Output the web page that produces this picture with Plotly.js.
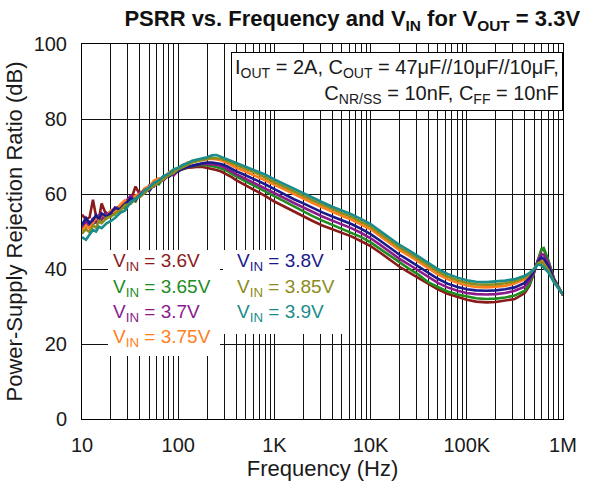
<!DOCTYPE html>
<html>
<head>
<meta charset="utf-8">
<script src="https://cdn.plot.ly/plotly-3.0.1.min.js"></script>
<style>html,body{margin:0;padding:0;background:#fff;}#chart{width:593px;height:484px;}</style>
</head>
<body>
<div id="chart"></div>
<script>
// Frequency points (Hz)
const freq = [10, 11, 12, 13, 14, 15, 16, 18, 20, 22, 25, 28, 32, 36, 40, 45, 50, 56, 63, 70, 80, 90, 100, 112, 125, 140, 160, 180, 200, 225, 250,
  280, 320, 360, 400, 500, 630, 800, 1000, 1250, 1600, 2000, 2500, 3150, 4000, 5000, 6300, 8000, 10000, 12500, 16000, 20000, 25000, 31500, 40000, 50000, 63000, 80000,
  100000, 125000, 160000, 200000, 250000, 315000, 400000, 450000, 500000, 550000, 600000, 630000, 700000, 800000, 900000, 1000000];

// PSRR (dB) per VIN
const vin360 = [54.5, 53.2, 53.8, 58.5, 54.0, 53.5, 57.5, 54.2, 55.5, 56.0, 56.8, 57.5, 58.2, 62.0, 59.8, 61.2, 61.6, 63.2, 63.5, 64.6, 65.2, 65.5, 66.4, 66.6, 67.0, 67.1, 67.3, 67.2, 67.0, 66.8, 66.4,
  66.0, 65.3, 64.5, 63.7, 62.4, 61.0, 59.5, 58.0, 56.7, 55.2, 54.0, 52.8, 51.6, 50.6, 49.7, 48.7, 47.4, 46.1, 44.4, 42.4, 40.6, 39.1, 37.6, 36.0, 34.6, 33.4, 32.5, 31.8, 31.3, 31.1, 31.2, 31.5, 32.0, 33.6, 35.6, 39.2, 42.6, 45.3, 45.4, 42.3, 37.6, 35.0, 33.0];
const vin365 = [52.0, 51.2, 52.5, 51.8, 53.4, 52.6, 54.0, 53.5, 55.2, 54.6, 56.8, 56.2, 58.6, 58.0, 60.2, 60.8, 61.5, 62.8, 62.6, 64.3, 64.8, 65.8, 66.2, 66.8, 67.2, 67.4, 67.6, 67.8, 67.7, 67.5, 67.2,
  66.8, 66.2, 65.4, 64.7, 63.4, 62.1, 60.7, 59.3, 58.0, 56.5, 55.3, 54.1, 52.9, 51.8, 50.8, 49.8, 48.5, 47.1, 45.4, 43.4, 41.6, 40.1, 38.5, 36.4, 35.2, 34.0, 33.2, 32.6, 32.2, 32.0, 32.1, 32.4, 32.9, 34.2, 36.0, 39.0, 42.4, 45.3, 45.6, 42.5, 37.6, 35.0, 33.0];
const vin370 = [50.6, 52.8, 51.5, 53.6, 52.2, 54.5, 53.2, 55.0, 54.2, 56.4, 55.8, 57.8, 59.5, 58.4, 60.6, 60.2, 62.3, 62.0, 63.8, 63.6, 65.2, 65.0, 66.3, 66.9, 67.4, 67.5, 67.9, 68.1, 68.0, 67.9, 67.8,
  67.5, 66.8, 66.0, 65.3, 64.1, 62.9, 61.6, 60.3, 59.0, 57.6, 56.4, 55.2, 54.0, 52.9, 51.9, 50.9, 49.6, 48.2, 46.5, 44.5, 42.7, 41.2, 39.6, 37.9, 36.3, 35.1, 34.2, 33.6, 33.3, 33.2, 33.3, 33.6, 34.2, 35.3, 36.9, 39.2, 42.3, 44.0, 43.8, 41.8, 37.4, 35.0, 33.1];
const vin375 = [50.2, 51.6, 50.8, 52.4, 53.8, 52.8, 54.6, 53.9, 55.6, 55.0, 57.2, 58.3, 57.6, 59.6, 60.0, 61.6, 62.0, 63.6, 64.2, 64.0, 65.8, 66.4, 66.8, 67.6, 68.4, 68.6, 69.2, 69.0, 69.3, 69.4, 69.2,
  69.0, 68.3, 67.6, 67.0, 66.0, 64.9, 63.7, 62.5, 61.3, 59.9, 58.8, 57.6, 56.4, 55.2, 54.2, 53.2, 51.9, 50.6, 48.8, 46.8, 45.0, 43.6, 42.0, 40.2, 38.6, 37.3, 36.3, 35.6, 35.2, 35.1, 35.2, 35.5, 36.1, 37.2, 38.4, 39.9, 41.8, 42.2, 41.8, 40.2, 37.0, 34.9, 33.2];
const vin380 = [51.8, 53.6, 52.2, 53.0, 54.4, 53.2, 54.8, 54.0, 55.0, 56.2, 56.0, 57.4, 58.8, 58.6, 59.8, 61.0, 60.8, 62.6, 63.0, 64.4, 64.6, 65.6, 66.0, 66.8, 67.2, 67.6, 67.9, 68.2, 68.4, 68.4, 68.3,
  68.0, 67.4, 66.7, 66.1, 65.0, 63.9, 62.6, 61.3, 60.0, 58.6, 57.5, 56.3, 55.1, 54.0, 53.0, 52.0, 50.7, 49.3, 47.6, 45.6, 43.8, 42.3, 40.7, 39.0, 37.4, 36.1, 35.2, 34.6, 34.3, 34.2, 34.3, 34.6, 35.1, 36.3, 37.7, 39.6, 42.1, 43.1, 42.7, 41.0, 37.2, 35.0, 33.1];
const vin385 = [49.4, 50.6, 49.8, 51.6, 51.0, 52.8, 52.2, 53.6, 54.0, 54.8, 55.6, 57.0, 57.4, 58.8, 59.2, 60.4, 61.4, 62.2, 63.2, 64.0, 65.0, 65.6, 66.6, 67.2, 67.8, 68.4, 68.8, 69.2, 69.4, 69.6, 69.6,
  69.4, 68.8, 68.2, 67.7, 66.7, 65.7, 64.5, 63.2, 62.0, 60.6, 59.5, 58.3, 57.1, 55.9, 54.9, 53.9, 52.6, 51.3, 49.5, 47.5, 45.7, 44.3, 42.7, 40.9, 39.3, 38.0, 37.0, 36.3, 35.9, 35.8, 35.9, 36.2, 36.7, 37.7, 38.7, 40.0, 41.6, 41.8, 41.3, 39.8, 36.8, 34.8, 33.2];
const vin390 = [48.5, 47.8, 49.2, 50.4, 50.0, 51.3, 50.9, 52.2, 52.8, 53.6, 55.0, 55.6, 57.8, 58.6, 59.5, 61.0, 61.8, 63.0, 63.6, 64.8, 65.4, 66.6, 67.0, 67.8, 68.2, 68.9, 69.2, 69.6, 69.8, 70.3, 70.4,
  69.9, 69.3, 68.8, 68.4, 67.4, 66.4, 65.2, 63.9, 62.7, 61.3, 60.2, 59.0, 57.8, 56.6, 55.6, 54.6, 53.3, 52.0, 50.2, 48.2, 46.4, 45.0, 43.4, 41.6, 40.0, 38.7, 37.7, 37.0, 36.6, 36.5, 36.6, 36.9, 37.3, 38.2, 39.0, 40.0, 41.2, 40.9, 40.4, 39.2, 36.6, 34.8, 33.2];

const seriesNames = ['3.6V', '3.65V', '3.7V', '3.75V', '3.8V', '3.85V', '3.9V'];
const seriesData = [vin360, vin365, vin370, vin375, vin380, vin385, vin390];
const seriesColors = ['#8b1a1a', '#1f8c1f', '#8c1a8c', '#ff7f1e', '#1a1a8c', '#8c8c1a', '#1a8c8c'];

// Axis tick labels
const decadeVals = [10, 100, 1000, 10000, 100000, 1000000];
const decadeLabels = ['10', '100', '1K', '10K', '100K', '1M'];

const xTickVals = [], xTickText = [];
decadeVals.forEach((d, i) => {
  const lim = (i === decadeVals.length - 1) ? 1 : 9;
  for (let m = 1; m <= lim; m++) {
    xTickVals.push(d * m);
    xTickText.push(m === 1 ? decadeLabels[i] : '');
  }
});

const FONT = 'Arial, "Liberation Sans", sans-serif';

const traces = seriesData.map((y, i) => ({
  x: freq, y: y, type: 'scatter', mode: 'lines', name: 'VIN = ' + seriesNames[i],
  line: {color: seriesColors[i], width: 2.6}, hoverinfo: 'skip'
}));

// plot-area pixel geometry helpers (for placing text boxes in paper units)
const L = 82, R = 563, T = 44, B = 419;
const px = v => (v - L) / (R - L);
const py = v => (B - v) / (B - T);

const annotations = [{
  xref: 'paper', yref: 'paper', x: 1, y: py(52), xanchor: 'right', yanchor: 'top',
  text: 'I<sub>OUT</sub> = 2A, C<sub>OUT</sub> = 47μF//10μF//10μF,<br>C<sub>NR/SS</sub> = 10nF, C<sub>FF</sub> = 10nF',
  align: 'right', showarrow: false, bgcolor: '#fff', bordercolor: '#000', borderwidth: 1, borderpad: 3,
  font: {family: FONT, size: 20, color: '#1a1a1a'}
}];

// white backing boxes behind the VIN labels
annotations.push({
  xref: 'paper', yref: 'paper', x: px(108), y: py(250), xanchor: 'left', yanchor: 'top',
  text: ' ', width: 112, height: 106, bgcolor: '#fff', borderwidth: 0, borderpad: 0, showarrow: false
});
annotations.push({
  xref: 'paper', yref: 'paper', x: px(223), y: py(250), xanchor: 'left', yanchor: 'top',
  text: ' ', width: 122, height: 84, bgcolor: '#fff', borderwidth: 0, borderpad: 0, showarrow: false
});

const leftRows = [262, 288, 313, 338];
const rightRows = [262, 288, 313];
seriesNames.forEach((n, i) => {
  const left = i < 4;
  annotations.push({
    xref: 'paper', yref: 'paper',
    x: left ? px(111) : px(235),
    y: py(left ? leftRows[i] : rightRows[i - 4]),
    xanchor: 'left', yanchor: 'middle', showarrow: false,
    text: 'V<sub>IN</sub> = ' + n,
    font: {family: FONT, size: 19, color: seriesColors[i]}
  });
});

const layout = {
  width: 593, height: 484,
  margin: {l: L, r: 593 - R, t: T, b: 484 - B},
  paper_bgcolor: '#fff', plot_bgcolor: '#fff',
  showlegend: false,
  font: {family: FONT, color: '#1a1a1a'},
  title: {
    text: '<b>PSRR vs. Frequency and V<sub>IN</sub> for V<sub>OUT</sub> = 3.3V</b>',
    font: {family: FONT, size: 22, color: '#111'},
    xref: 'container', yref: 'container', x: 0.594, xanchor: 'center', y: 0.962, yanchor: 'middle'
  },
  xaxis: {
    type: 'log', range: [1, 6], tickmode: 'array', tickvals: xTickVals, ticktext: xTickText,
    showgrid: true, gridcolor: '#111', gridwidth: 1, zeroline: false,
    showline: true, mirror: true, linecolor: '#000', linewidth: 1,
    ticks: '', ticklabelstandoff: 8,
    tickfont: {family: FONT, size: 20, color: '#1a1a1a'},
    title: {text: 'Frequency (Hz)', font: {family: FONT, size: 22, color: '#1a1a1a'}, standoff: 4}
  },
  yaxis: {
    range: [0, 100], tickmode: 'linear', tick0: 0, dtick: 20,
    showgrid: true, gridcolor: '#111', gridwidth: 1, zeroline: false,
    showline: true, mirror: true, linecolor: '#000', linewidth: 1,
    ticks: '', ticklabelstandoff: 10,
    tickfont: {family: FONT, size: 20, color: '#1a1a1a'},
    title: {text: 'Power-Supply Rejection Ratio (dB)', font: {family: FONT, size: 22, color: '#1a1a1a'}, standoff: 4}
  },
  annotations: annotations
};

Plotly.newPlot('chart', traces, layout, {displayModeBar: false, staticPlot: true});
</script>
</body>
</html>
